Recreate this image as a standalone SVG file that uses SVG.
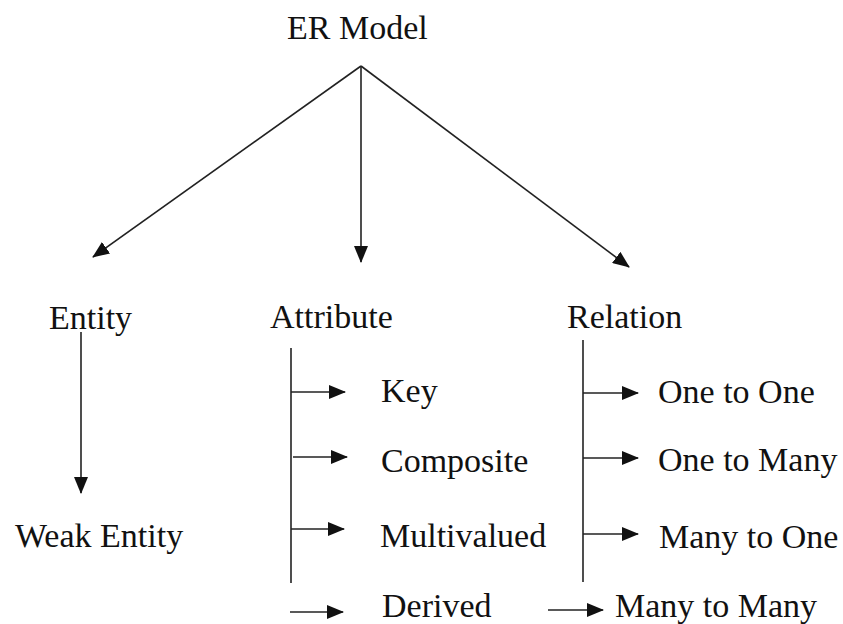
<svg xmlns="http://www.w3.org/2000/svg" width="843" height="624" viewBox="0 0 843 624">
<style>
  text { font-family: "Liberation Serif", "Times New Roman", Times, "DejaVu Serif", serif; font-size: 34px; fill: #111; }
  .ln { stroke: #222; stroke-width: 1.6; fill: none; }
  .arr { stroke: #222; stroke-width: 1.6; fill: none; marker-end: url(#ah); }
</style>
<defs>
  <marker id="ah" markerUnits="userSpaceOnUse" markerWidth="17" markerHeight="14" refX="16" refY="7" orient="auto">
    <path d="M0,0 L17,7 L0,14 z" fill="#111"/>
  </marker>
</defs>
<rect width="843" height="624" fill="#fff"/>
<g id="connectors">
  <path class="arr" d="M361,66 L93,257"/>
  <path class="arr" d="M361,66 L361,262"/>
  <path class="arr" d="M361,66 L629,267"/>
  <path class="arr" d="M81,332 L81,493"/>
  <path class="ln" d="M291,348 L291,583"/>
  <path class="arr" d="M291,392 L345,392"/>
  <path class="arr" d="M293,457 L347,457"/>
  <path class="arr" d="M291,529 L344,529"/>
  <path class="arr" d="M290,612 L343,612"/>
  <path class="ln" d="M583,340 L583,582"/>
  <path class="arr" d="M583,393 L638,393"/>
  <path class="arr" d="M583,458 L638,458"/>
  <path class="arr" d="M583,534 L638,534"/>
  <path class="arr" d="M548,610 L603,610"/>
</g>
<g id="er-model"><text x="287" y="39">ER Model</text></g>
<g id="entity"><text x="49" y="329">Entity</text></g>
<g id="attribute"><text x="270" y="328">Attribute</text></g>
<g id="relation"><text x="567" y="328">Relation</text></g>
<g id="weak-entity"><text x="15" y="547">Weak Entity</text></g>
<g id="key"><text x="381" y="402">Key</text></g>
<g id="composite"><text x="381" y="472">Composite</text></g>
<g id="multivalued"><text x="380" y="547">Multivalued</text></g>
<g id="derived"><text x="382" y="617">Derived</text></g>
<g id="one-to-one"><text x="658" y="403">One to One</text></g>
<g id="one-to-many"><text x="658" y="471">One to Many</text></g>
<g id="many-to-one"><text x="659" y="548">Many to One</text></g>
<g id="many-to-many"><text x="615" y="617">Many to Many</text></g>
</svg>
